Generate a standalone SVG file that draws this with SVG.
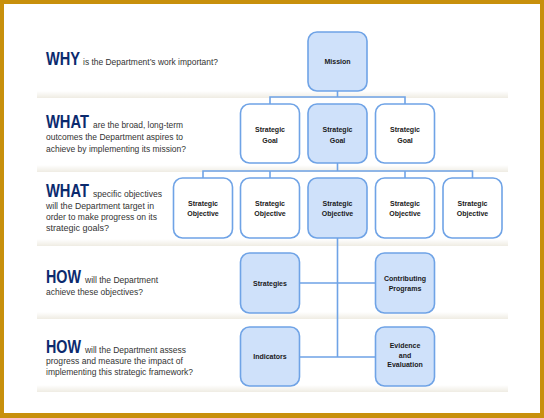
<svg xmlns="http://www.w3.org/2000/svg" width="544" height="418" viewBox="0 0 544 418">
<defs>
<linearGradient id="sep" x1="0" y1="0" x2="0" y2="1">
<stop offset="0" stop-color="#ffffff"/>
<stop offset="1" stop-color="#efece3"/>
</linearGradient>
<style>
.frame{fill:#c8900c}
.sep{fill:url(#sep)}
.node{stroke:#6fa3e6;stroke-width:1.6}
.blue{fill:#cfe1fa}
.white{fill:#ffffff}
.nl{font-family:"Liberation Sans",Arial,sans-serif;font-weight:bold;font-size:7px;fill:#1a1a1a;text-anchor:middle}
.hd{font-family:"Liberation Sans",Arial,sans-serif;font-weight:bold;font-size:18px;fill:#0b2a6e}
.q{font-family:"Liberation Sans",Arial,sans-serif;font-size:8.8px;fill:#333333}
.con{stroke:#6fa3e6;stroke-width:1.6;fill:none}
</style>
</defs>
<rect x="0" y="0" width="544" height="418" class="frame"/>
<rect x="4" y="4" width="536" height="409" fill="#ffffff"/>
<g id="bands">
<rect x="37" y="91" width="471" height="7" class="sep"/>
<rect x="37" y="165" width="471" height="7" class="sep"/>
<rect x="37" y="239" width="471" height="7" class="sep"/>
<rect x="37" y="312" width="471" height="7" class="sep"/>
<rect x="37" y="385" width="471" height="7" class="sep"/>
</g>
<g id="questions">
<text class="hd" x="46" y="65" textLength="34" lengthAdjust="spacingAndGlyphs">WHY</text>
<text class="q" x="83" y="65" textLength="135" lengthAdjust="spacingAndGlyphs">is the Department’s work important?</text>
<text class="hd" x="46" y="128" textLength="43" lengthAdjust="spacingAndGlyphs">WHAT</text>
<text class="q" x="93" y="128" textLength="90" lengthAdjust="spacingAndGlyphs">are the broad, long-term</text>
<text class="q" x="46" y="140" textLength="137" lengthAdjust="spacingAndGlyphs">outcomes the Department aspires to</text>
<text class="q" x="46" y="152" textLength="140" lengthAdjust="spacingAndGlyphs">achieve by implementing its mission?</text>
<text class="hd" x="46" y="197" textLength="43" lengthAdjust="spacingAndGlyphs">WHAT</text>
<text class="q" x="93" y="197" textLength="69" lengthAdjust="spacingAndGlyphs">specific objectives</text>
<text class="q" x="46" y="209" textLength="108" lengthAdjust="spacingAndGlyphs">will the Department target in</text>
<text class="q" x="46" y="220" textLength="111" lengthAdjust="spacingAndGlyphs">order to make progress on its</text>
<text class="q" x="46" y="231" textLength="63" lengthAdjust="spacingAndGlyphs">strategic goals?</text>
<text class="hd" x="46" y="283" textLength="35" lengthAdjust="spacingAndGlyphs">HOW</text>
<text class="q" x="85" y="283" textLength="73" lengthAdjust="spacingAndGlyphs">will the Department</text>
<text class="q" x="46" y="295" textLength="97" lengthAdjust="spacingAndGlyphs">achieve these objectives?</text>
<text class="hd" x="46" y="353" textLength="35" lengthAdjust="spacingAndGlyphs">HOW</text>
<text class="q" x="85" y="353" textLength="101" lengthAdjust="spacingAndGlyphs">will the Department assess</text>
<text class="q" x="46" y="364" textLength="137" lengthAdjust="spacingAndGlyphs">progress and measure the impact of</text>
<text class="q" x="46" y="375" textLength="147" lengthAdjust="spacingAndGlyphs">implementing this strategic framework?</text>
</g>
<g id="connectors">
<path class="con" d="M337.5 91 V97 M270 104 V97 H405 V104"/>
<path class="con" d="M337.5 163 V171 M203 178 V171 H472.5 V178 M270 171 V178 M405 171 V178"/>
<path class="con" d="M337.5 238 V357 M300 283 H375 M300 357 H375"/>
</g>
<g id="mission">
<rect class="node blue" x="308" y="32" width="59" height="59" rx="9"/>
<text class="nl" x="337.5" y="64">Mission</text>
</g>
<g id="goal1">
<rect class="node white" x="240.5" y="104" width="59" height="59" rx="9"/>
<text class="nl" x="270" y="132">Strategic</text>
<text class="nl" x="270" y="143">Goal</text>
</g>
<g id="goal2">
<rect class="node blue" x="308" y="104" width="59" height="59" rx="9"/>
<text class="nl" x="337.5" y="132">Strategic</text>
<text class="nl" x="337.5" y="143">Goal</text>
</g>
<g id="goal3">
<rect class="node white" x="375.5" y="104" width="59" height="59" rx="9"/>
<text class="nl" x="405" y="132">Strategic</text>
<text class="nl" x="405" y="143">Goal</text>
</g>
<g id="objective1">
<rect class="node white" x="173.5" y="178" width="59" height="60" rx="9"/>
<text class="nl" x="203" y="206">Strategic</text>
<text class="nl" x="203" y="216">Objective</text>
</g>
<g id="objective2">
<rect class="node white" x="240.5" y="178" width="59" height="60" rx="9"/>
<text class="nl" x="270" y="206">Strategic</text>
<text class="nl" x="270" y="216">Objective</text>
</g>
<g id="objective3">
<rect class="node blue" x="308" y="178" width="59" height="60" rx="9"/>
<text class="nl" x="337.5" y="206">Strategic</text>
<text class="nl" x="337.5" y="216">Objective</text>
</g>
<g id="objective4">
<rect class="node white" x="375.5" y="178" width="59" height="60" rx="9"/>
<text class="nl" x="405" y="206">Strategic</text>
<text class="nl" x="405" y="216">Objective</text>
</g>
<g id="objective5">
<rect class="node white" x="443" y="178" width="59" height="60" rx="9"/>
<text class="nl" x="472.5" y="206">Strategic</text>
<text class="nl" x="472.5" y="216">Objective</text>
</g>
<g id="strategies">
<rect class="node blue" x="240.5" y="253" width="59" height="60" rx="9"/>
<text class="nl" x="270" y="285.5">Strategies</text>
</g>
<g id="programs">
<rect class="node blue" x="375.5" y="253" width="59" height="60" rx="9"/>
<text class="nl" x="405" y="281">Contributing</text>
<text class="nl" x="405" y="291">Programs</text>
</g>
<g id="indicators">
<rect class="node blue" x="240.5" y="327" width="59" height="59" rx="9"/>
<text class="nl" x="270" y="359">Indicators</text>
</g>
<g id="evidence">
<rect class="node blue" x="375.5" y="327" width="59" height="59" rx="9"/>
<text class="nl" x="405" y="348">Evidence</text>
<text class="nl" x="405" y="357.5">and</text>
<text class="nl" x="405" y="367">Evaluation</text>
</g>
</svg>
